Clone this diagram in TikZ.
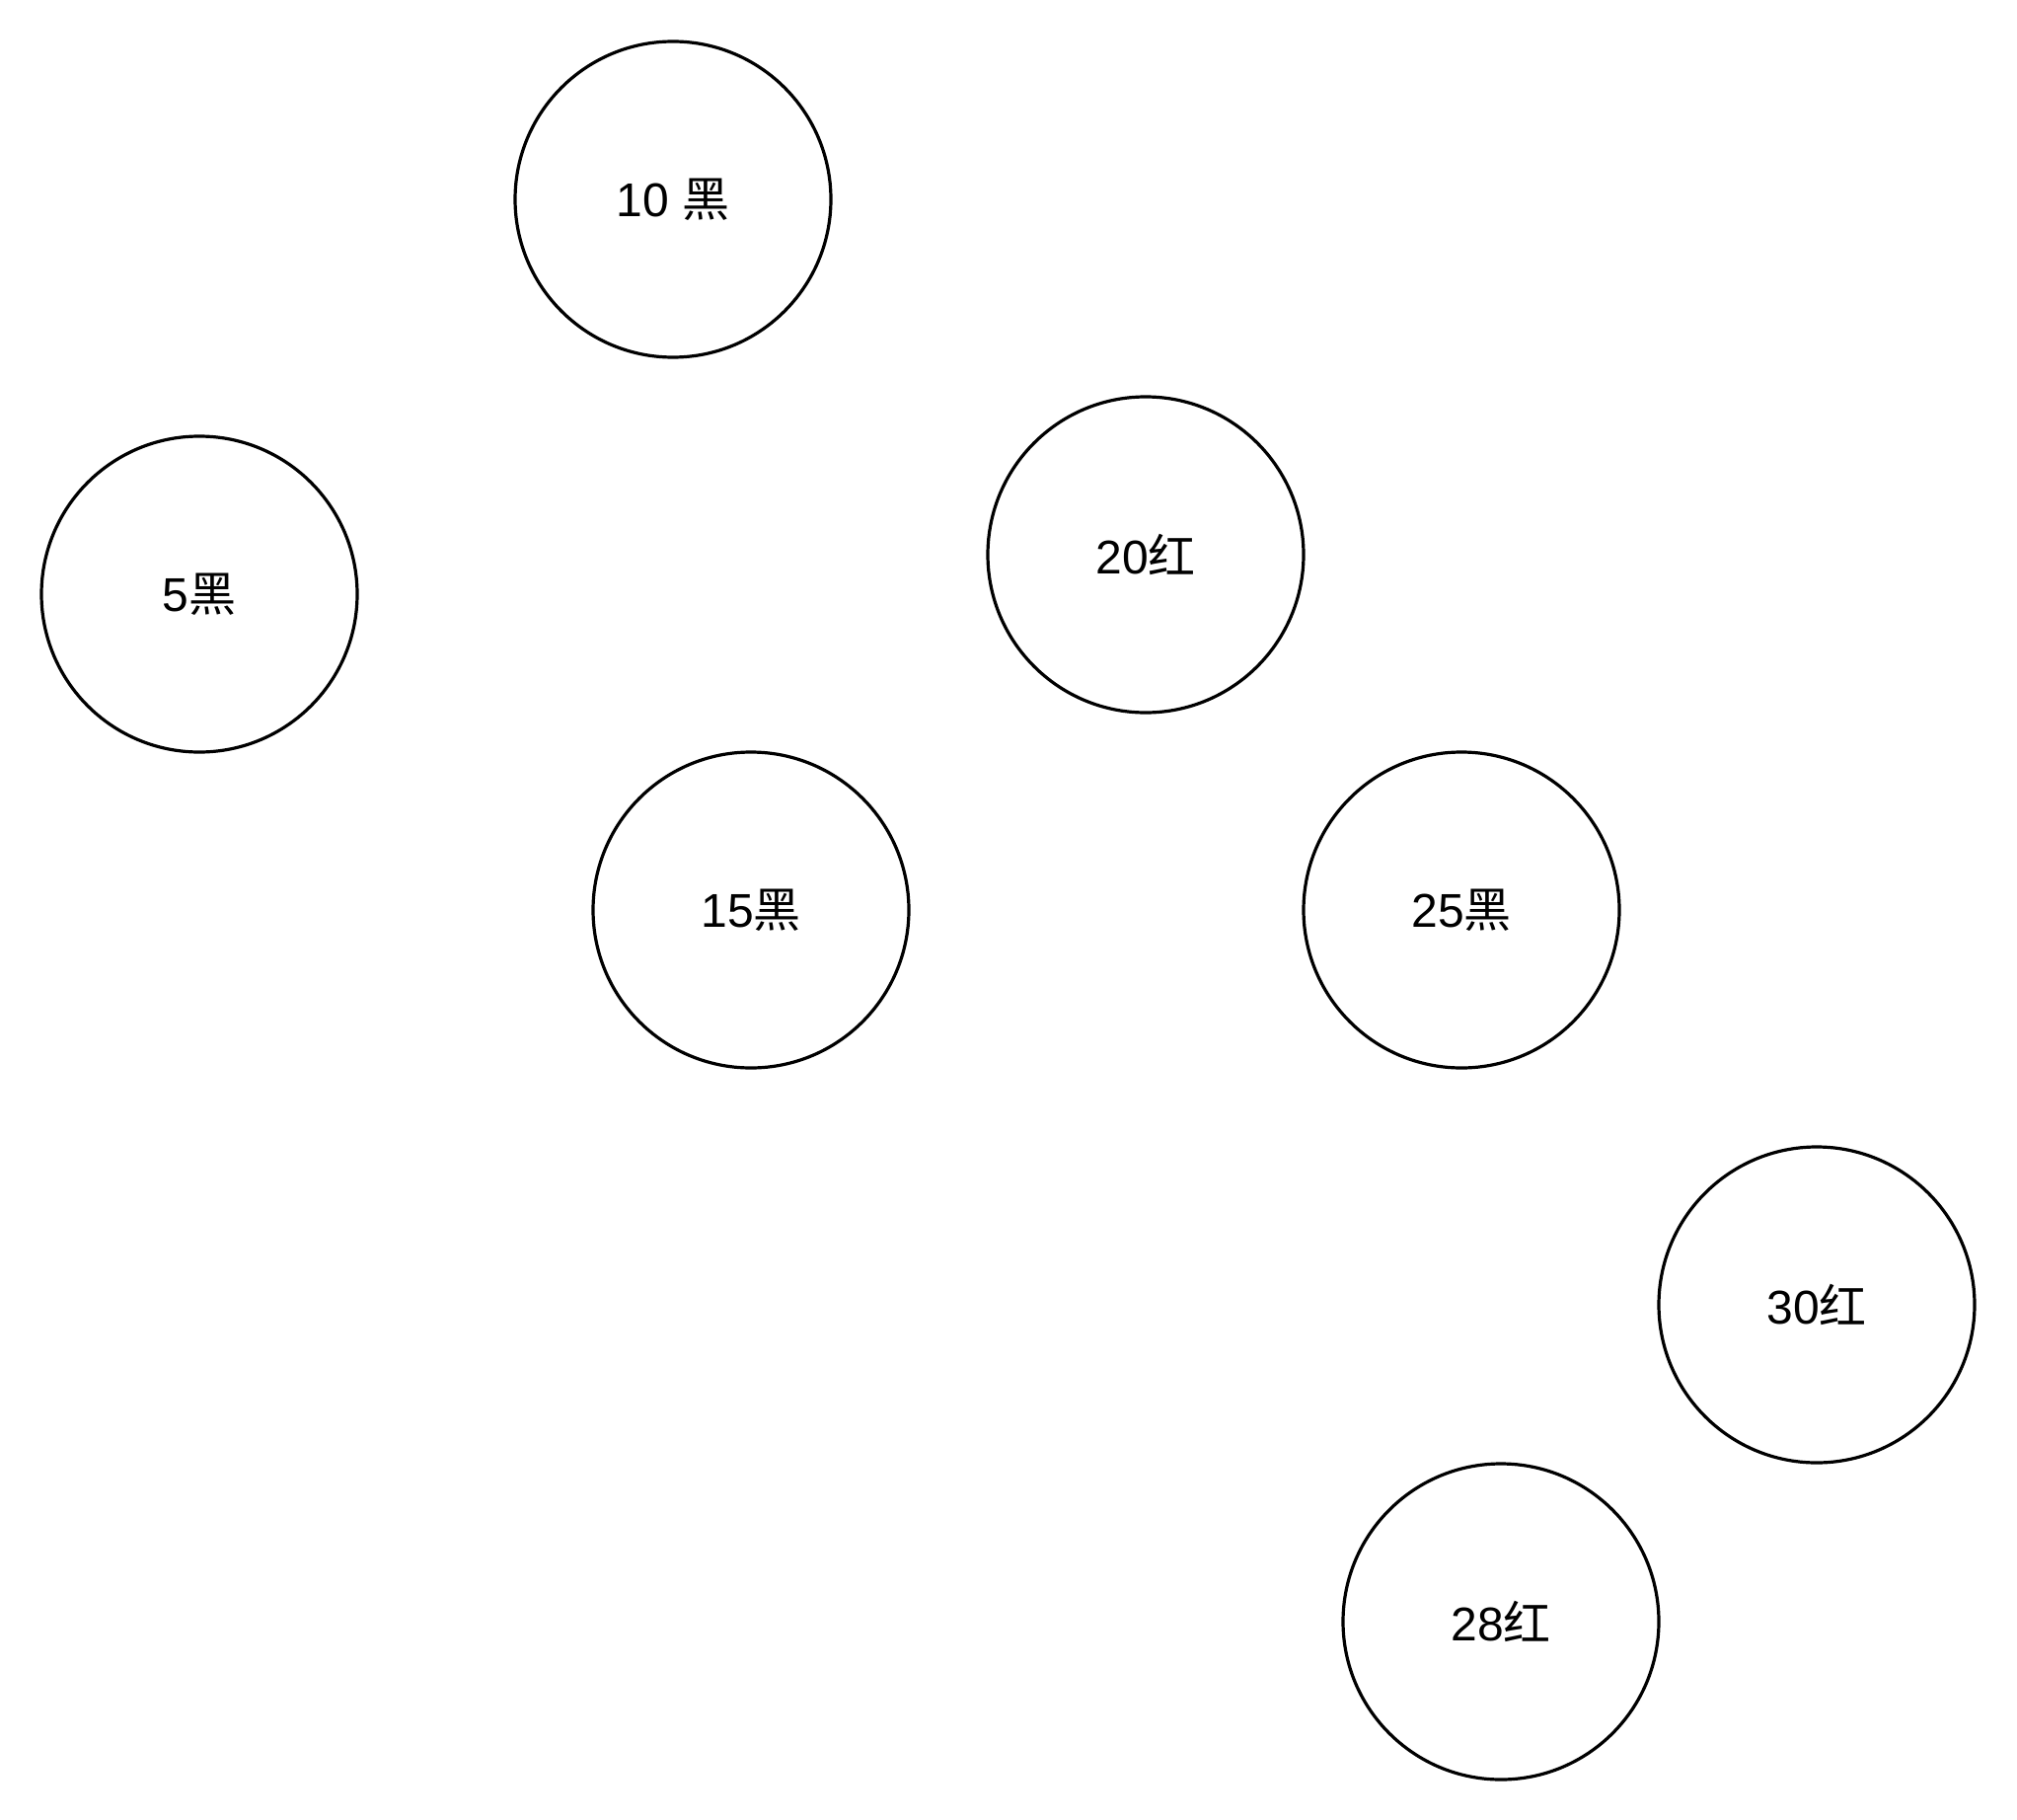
\documentclass[tikz,border=0pt]{standalone}
\usepackage{fontspec}
\setmainfont{Liberation Sans}
\newfontfamily\cjk{Noto Sans CJK SC}
\newcommand{\hei}{{\cjk 黑}}
\newcommand{\hong}{{\cjk 红}}

\tikzset{every picture/.style={line width=0.75pt}}
\tikzset{rbnode/.style={draw, circle, line width=2.4pt, minimum size=240pt, inner sep=0pt, font=\fontsize{36}{43}\selectfont}}

\begin{document}
\begin{tikzpicture}[x=0.75pt,y=0.75pt,yscale=-1,xscale=1]
	\useasboundingbox (0,0) rectangle (2044,1844);

	\node [rbnode] (n10) at (682,202) {10 \hei};
	\node [rbnode] (n5) at (202,602) {5\hei};
	\node [rbnode] (n20) at (1161,562) {20\hong};
	\node [rbnode] (n15) at (761,922) {15\hei};
	\node [rbnode] (n25) at (1481,922) {25\hei};
	\node [rbnode] (n30) at (1841,1322) {30\hong};
	\node [rbnode] (n28) at (1521,1643) {28\hong};

\end{tikzpicture}
\end{document}
